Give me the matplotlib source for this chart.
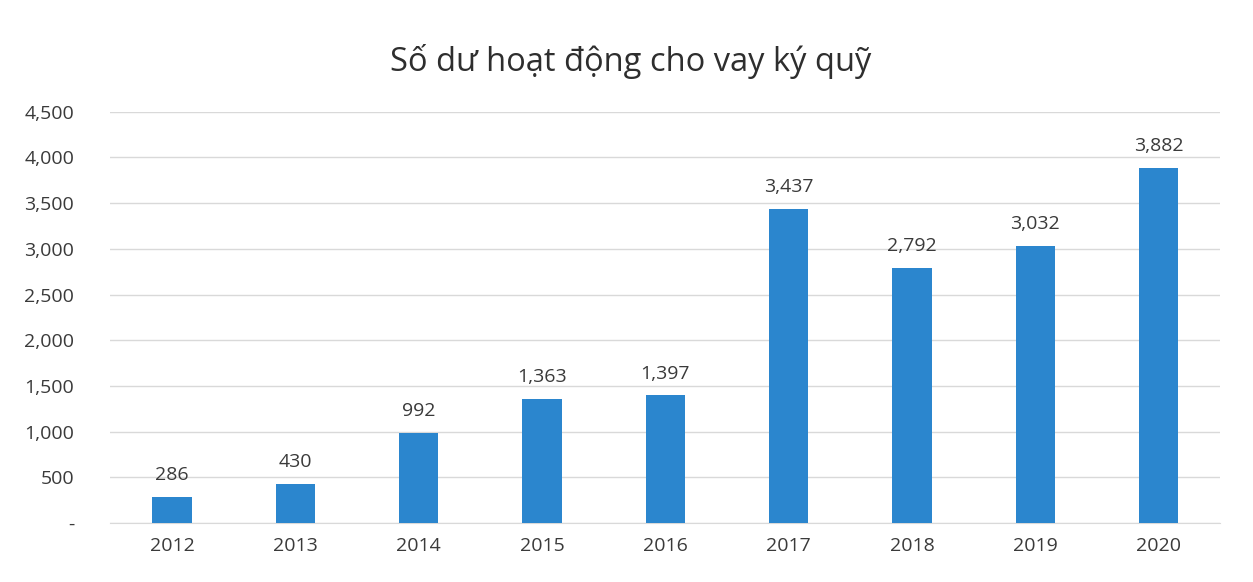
import matplotlib
matplotlib.use("Agg")
import matplotlib.pyplot as plt
from matplotlib.ticker import FuncFormatter

# du lieu
years = ["2012", "2013", "2014", "2015", "2016", "2017", "2018", "2019", "2020"]
balances = [286, 430, 992, 1363, 1397, 3437, 2792, 3032, 3882]
yticks = [0, 500, 1000, 1500, 2000, 2500, 3000, 3500, 4000, 4500]
title = "Số dư hoạt động cho vay ký quỹ"

plt.rcParams['font.family'] = ['Open Sans', 'DejaVu Sans']

fig = plt.figure(figsize=(12.53, 5.82), dpi=100)
ax = fig.add_axes([0.088, 0.101, 0.886, 0.707])

x = range(len(years))
bars = ax.bar(x, balances, width=0.32, color="#2B86CE", zorder=3)

for b, v in zip(bars, balances):
    ax.text(b.get_x() + b.get_width() / 2, v + 140, f"{v:,}",
            ha="center", va="bottom", fontsize=14, color="#3A3A3A")

ax.set_xlim(-0.5, len(years) - 0.5)
ax.set_ylim(0, 4500)
ax.set_yticks(yticks)
ax.yaxis.set_major_formatter(FuncFormatter(lambda v, p: "-" if v == 0 else f"{int(v):,}"))
ax.set_xticks(list(x))
ax.set_xticklabels(years)
ax.tick_params(axis="both", length=0, labelsize=14, colors="#3A3A3A")
ax.tick_params(axis="x", pad=10)
ax.tick_params(axis="y", pad=26)
for lbl in ax.get_yticklabels():
    lbl.set_horizontalalignment("right")

ax.grid(axis="y", color="#D9D9D9", linewidth=1, zorder=0)
for s in ["top", "right", "left"]:
    ax.spines[s].set_visible(False)
ax.spines["bottom"].set_color("#D9D9D9")

fig.text(0.503, 0.895, title, ha="center", va="center", fontsize=23.5, color="#2E2E2E")

fig.savefig("out.png", dpi=100)
